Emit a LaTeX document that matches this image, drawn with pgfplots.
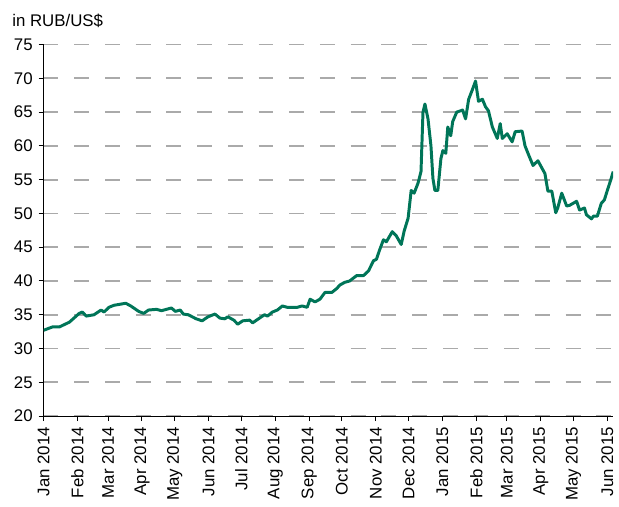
\documentclass[border=0pt]{standalone}
\usepackage{pgfplots}
\pgfplotsset{compat=1.18}
\usepackage{fontspec}
\setmainfont{Liberation Sans}
\definecolor{rubgreen}{RGB}{0,117,88}
\definecolor{gridgray}{RGB}{170,170,170}

\begin{document}
\begin{tikzpicture}
\fontsize{8.5}{10}\selectfont
\begin{axis}[
  name=fx,
  scale only axis,
  width=287.5pt, height=187.5pt,
  xmin=0, xmax=521.3,
  ymin=20, ymax=75,
  ytick={20,25,...,75},
  xtick={0,31,59,90,120,151,181,212,243,273,304,334,365,396,424,455,485,516},
  xticklabels={Jan 2014,Feb 2014,Mar 2014,Apr 2014,May 2014,Jun 2014,Jul 2014,Aug 2014,Sep 2014,Oct 2014,Nov 2014,Dec 2014,Jan 2015,Feb 2015,Mar 2015,Apr 2015,May 2015,Jun 2015},
  x tick label style={rotate=90, anchor=east, font=\fontsize{8.5}{10}\selectfont},
  y tick label style={font=\fontsize{8.5}{10}\selectfont},
  /pgf/number format/assume math mode=true,
  axis x line*=bottom, axis y line*=left,
  axis line style={black, line width=0.5pt, -},
  tick style={black, line width=0.5pt},
  tick align=outside,
  major tick length=2.5pt,
  ymajorgrids,
  major grid style={gridgray, line width=0.9pt, dash pattern=on 7.5pt off 8pt},
]
\addplot[rubgreen, line width=1.5pt, line join=round] coordinates {
(0,32.7) (8.2,33.2) (14.5,33.2) (23.6,33.9) (32.6,35.2) (35.4,35.4) (39.0,34.8)
(46.2,35.0) (52.6,35.7) (55.3,35.4) (59.8,36.1) (64.4,36.4) (75.2,36.7) (79.8,36.3)
(87.0,35.5) (91.6,35.2) (96.1,35.7) (103.4,35.8) (107.9,35.6) (112.4,35.8) (117.0,36.0)
(120.6,35.5) (125.1,35.7) (127.8,35.1) (132.4,35.0) (139.6,34.4) (145.1,34.1) (150.5,34.7)
(156.8,35.1) (161.4,34.5) (165.9,34.4) (168.6,34.7) (174.1,34.2) (177.7,33.6) (182.2,34.1)
(188.6,34.2) (191.3,33.8) (197.6,34.5) (202.2,35.0) (204.9,34.8) (209.4,35.4) (214.0,35.7)
(218.5,36.3) (223.0,36.1) (232.1,36.1) (236.6,36.3) (241.2,36.1) (243.9,37.3) (248.4,36.9)
(252.9,37.3) (257.5,38.3) (263.8,38.3) (268.4,38.9) (271.1,39.4) (275.6,39.8) (280.1,40.0)
(286.5,40.8) (292.8,40.8) (297.4,41.5) (301.9,43.0) (304.6,43.2) (307.3,44.5) (311.0,46.1)
(313.7,45.8) (319.1,47.3) (322.7,46.7) (327.3,45.4) (330.0,47.4) (333.6,49.3) (336.4,53.4)
(339.1,53.0) (342.7,54.5) (345.4,56.2) (347.2,65.0) (349.0,66.2) (351.8,64.0) (354.5,60.0)
(356.3,55.2) (358.1,53.4) (360.8,53.4) (363.6,58.1) (365.4,59.3) (368.1,58.9) (369.9,62.8)
(372.6,61.5) (374.4,63.6) (378.1,65.0) (383.5,65.3) (386.2,64.0) (389.0,66.9) (392.6,68.4)
(395.3,69.6) (398.0,66.6) (401.6,66.9) (404.4,65.8) (407.1,65.2) (410.7,62.8) (415.2,61.1)
(417.9,63.3) (419.8,61.1) (424.3,61.8) (428.8,60.6) (431.6,62.1) (437.9,62.2) (440.6,60.0)
(443.3,58.9) (447.9,57.1) (452.4,57.8) (458.8,55.9) (461.5,53.3) (465.1,53.3) (468.7,50.1)
(470.5,50.8) (474.2,53.0) (478.7,51.1) (481.4,51.2) (487.8,51.8) (490.5,50.5) (495.0,50.8)
(496.8,49.8) (501.4,49.2) (503.2,49.6) (506.8,49.6) (510.4,51.5) (513.2,52.0) (515.9,53.4)
(519.5,55.2) (521.3,56.2)
};
\end{axis}
\node[anchor=base west, inner sep=0pt, font=\fontsize{8.5}{10}\selectfont]
  at ([xshift=-16pt, yshift=9pt]fx.north west) {in RUB/US\$};
\useasboundingbox ([xshift=-22pt, yshift=-45.5pt]fx.south west) rectangle ([yshift=22.5pt]fx.north east);
\end{tikzpicture}
\end{document}
